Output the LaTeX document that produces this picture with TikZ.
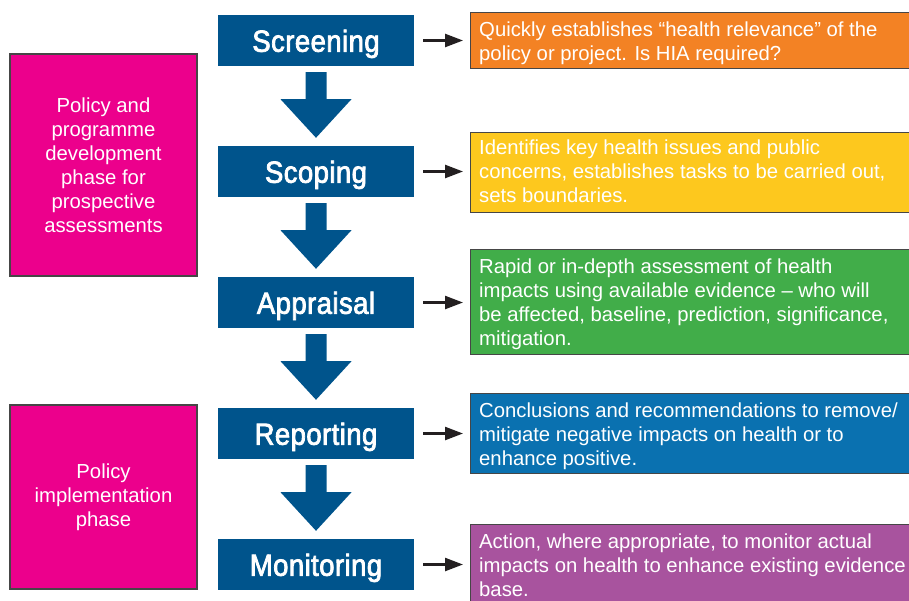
\documentclass[tikz,border=0pt]{standalone}
\usepackage{fontspec}
\setmainfont{Liberation Sans}
\newfontfamily\titlefont[FakeStretch=0.9,FakeBold=2.5,LetterSpace=1.5]{Liberation Sans}
\usetikzlibrary{arrows.meta,calc}
\definecolor{hiablue}{RGB}{0,84,140}
\definecolor{hiamag}{RGB}{236,0,140}
\definecolor{hiaorange}{RGB}{243,130,36}
\definecolor{hiayellow}{RGB}{253,200,30}
\definecolor{hiagreen}{RGB}{65,173,73}
\definecolor{hiaskyblue}{RGB}{10,113,176}
\definecolor{hiapurple}{RGB}{168,83,158}
\definecolor{hiaedge}{RGB}{70,70,70}
\definecolor{hiaink}{RGB}{35,31,32}
\begin{document}
\begin{tikzpicture}[x=1pt,y=-1pt,
  stepbox/.style={fill=hiablue, minimum width=196pt, minimum height=51pt, inner sep=0pt,
    text=white, font=\titlefont\fontsize{30.5}{31}\selectfont, text height=22.5pt, text depth=0pt},
  phasebox/.style={fill=hiamag, draw=hiaedge, line width=1.2pt, text=white, align=center,
    inner sep=0pt, font=\fontsize{20.3}{24}\selectfont, minimum width=187pt},
  infobox/.style={draw=hiaedge, line width=1pt, minimum width=460pt, inner sep=0pt, anchor=north west},
  infotext/.style={text=white, align=left, inner sep=0pt, anchor=north west,
    font=\fontsize{20.3}{24}\selectfont},
  conn/.style={draw=hiaink, line width=2.4pt, -{Triangle[length=18pt,width=13pt]},
    shorten <=9pt, shorten >=7pt},
  downarrow/.style={fill=hiablue}
]
\useasboundingbox (0,0) rectangle (909,600);
\clip (0,0) rectangle (909,600);

% phase boxes
\node[phasebox, minimum height=222pt] (ph1) at (103.5,165) {Policy and\\programme\\development\\phase for\\prospective\\assessments};
\node[phasebox, minimum height=184pt] (ph2) at (103.5,497) {Policy\\implementation\\phase};

% step boxes
\node[stepbox] (scr) at (316,40.5) {Screening};
\node[stepbox] (scp) at (316,171.5) {Scoping};
\node[stepbox] (app) at (316,302.5) {Appraisal};
\node[stepbox] (rep) at (316,433.5) {Reporting};
\node[stepbox] (mon) at (316,564.5) {Monitoring};

% block arrows
\foreach \a/\b in {scr/scp, scp/app, app/rep, rep/mon} {
  \fill[downarrow] ($(\a.south)+(-10.5,6)$) -- ($(\a.south)+(10.5,6)$) -- ($(\a.south)+(10.5,33)$)
    -- ($(\a.south)+(35.5,33)$) -- ($(\b.north)+(0,-8)$) -- ($(\a.south)+(-35.5,33)$)
    -- ($(\a.south)+(-10.5,33)$) -- cycle;
}

% info boxes
\node[infobox, fill=hiaorange, minimum height=56pt] (ob) at (470,12) {};
\node[infobox, fill=hiayellow, minimum height=80pt] (yb) at (470,132) {};
\node[infobox, fill=hiagreen, minimum height=105pt] (gb) at (470,249) {};
\node[infobox, fill=hiaskyblue, minimum height=80pt] (bb) at (470,393) {};
\node[infobox, fill=hiapurple, minimum height=110pt] (pb) at (470,524) {};

\node[infotext] (ot) at ($(ob.north west)+(9,7)$) {\rule{0pt}{17pt}Quickly establishes “health relevance” of the\\policy or project. Is HIA required?};
\node[infotext] (yt) at ($(yb.north west)+(9,5)$) {\rule{0pt}{17pt}Identifies key health issues and public\\concerns, establishes tasks to be carried out,\\sets boundaries.};
\node[infotext] (gt) at ($(gb.north west)+(9,7)$) {\rule{0pt}{17pt}Rapid or in-depth assessment of health\\impacts using available evidence – who will\\be affected, baseline, prediction, significance,\\mitigation.};
\node[infotext] (bt) at ($(bb.north west)+(9,7)$) {\rule{0pt}{17pt}Conclusions and recommendations to remove/\\mitigate negative impacts on health or to\\enhance positive.};
\node[infotext] (pt) at ($(pb.north west)+(9,7)$) {\rule{0pt}{17pt}Action, where appropriate, to monitor actual\\impacts on health to enhance existing evidence\\base.};

% connectors
\draw[conn] (scr.east) -- (scr.east -| ob.west);
\draw[conn] (scp.east) -- (scp.east -| yb.west);
\draw[conn] (app.east) -- (app.east -| gb.west);
\draw[conn] (rep.east) -- (rep.east -| bb.west);
\draw[conn] (mon.east) -- (mon.east -| pb.west);
\end{tikzpicture}
\end{document}
